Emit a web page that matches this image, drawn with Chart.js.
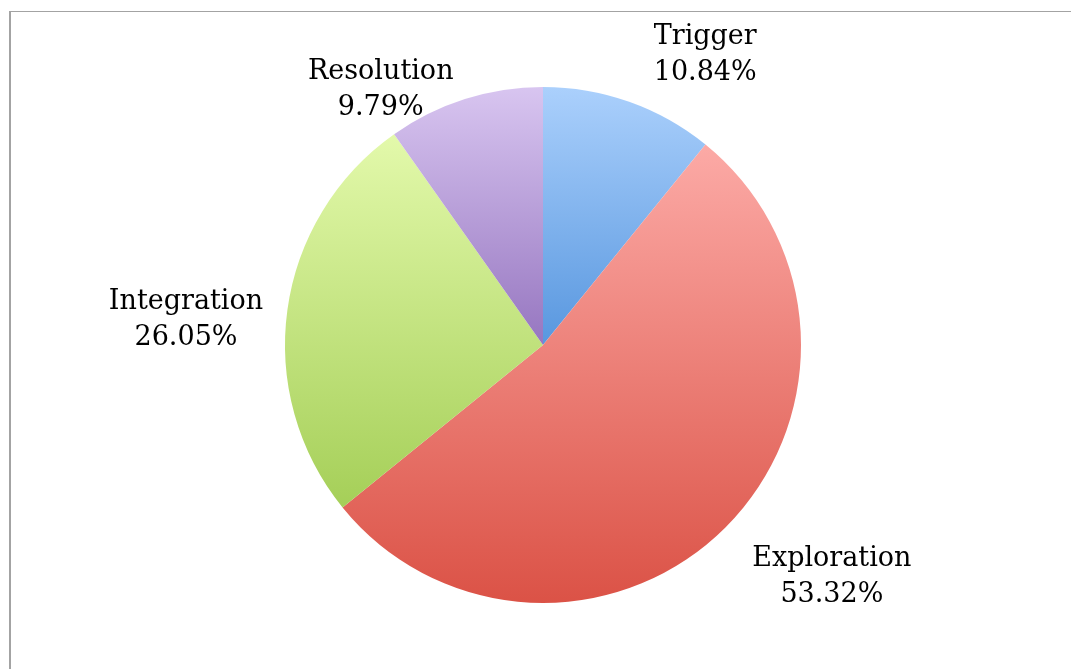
<!DOCTYPE html>
<html>
<head>
<meta charset="utf-8">
<script src="https://cdn.jsdelivr.net/npm/chart.js@4"></script>
<style>
  html, body { margin: 0; padding: 0; background: #fff; }
  #wrap { position: relative; width: 1071px; height: 669px; }
  #frame {
    position: absolute; left: 9px; top: 11px; right: 0; bottom: 0;
    border-top: 1px solid #a3a3a3; border-left: 2px solid #a3a3a3;
  }
  canvas { position: absolute; left: 0; top: 0; }
</style>
</head>
<body>
<div id="wrap">
  <div id="frame"></div>
  <canvas id="faseChart" width="1071" height="669"></canvas>
</div>
<script>
// Fases - pie chart
const fases = ['Trigger', 'Exploration', 'Integration', 'Resolution'];
const percentuais = [10.84, 53.32, 26.05, 9.79];

// gradient per slice: light at top, darker at bottom
const coresTopo = ['#abd0fc', '#fcaaa6', '#e3f9ab', '#d8c5f0'];
const coresBase = ['#5897df', '#db5246', '#a5cf58', '#9676c0'];

// small nudges for the outside labels
const ajusteRotulo = [[56, 10], [64, 7], [-42, 19], [-66, 48]];

function gradienteFatia(context) {
    const i = context.dataIndex;
    const chart = context.chart;
    const area = chart.chartArea;
    if (!area) return coresTopo[i];
    const cx = (area.left + area.right) / 2;
    const cy = (area.top + area.bottom) / 2;
    const r = Math.min(area.right - area.left, area.bottom - area.top) / 2;
    const total = percentuais.reduce((a, b) => a + b, 0);
    let antes = 0;
    for (let k = 0; k < i; k++) antes += percentuais[k];
    const ini = -Math.PI / 2 + antes / total * 2 * Math.PI;
    const fim = ini + percentuais[i] / total * 2 * Math.PI;
    const ys = [cy, cy + r * Math.sin(ini), cy + r * Math.sin(fim)];
    // arc passes through the bottom (PI/2) or top (3PI/2)?
    [Math.PI / 2, 3 * Math.PI / 2, -Math.PI / 2].forEach(a => {
        if (a > ini && a < fim) ys.push(cy + r * Math.sin(a));
    });
    const y0 = Math.min(...ys), y1 = Math.max(...ys);
    const g = chart.ctx.createLinearGradient(0, y0, 0, y1);
    g.addColorStop(0, coresTopo[i]);
    g.addColorStop(1, coresBase[i]);
    return g;
}

const rotulosExternos = {
    id: 'rotulosExternos',
    afterDatasetsDraw(chart) {
        const ctx = chart.ctx;
        const meta = chart.getDatasetMeta(0);
        ctx.save();
        ctx.font = '27px "DejaVu Serif"';
        ctx.fillStyle = '#000';
        ctx.textAlign = 'center';
        ctx.textBaseline = 'middle';
        meta.data.forEach((arc, i) => {
            const meio = (arc.startAngle + arc.endAngle) / 2;
            const dist = arc.outerRadius + 60;
            const x = arc.x + Math.cos(meio) * dist + ajusteRotulo[i][0];
            const y = arc.y + Math.sin(meio) * dist + ajusteRotulo[i][1];
            ctx.fillText(fases[i], x, y - 18);
            ctx.fillText(percentuais[i].toFixed(2) + '%', x, y + 18);
        });
        ctx.restore();
    }
};

const faseCtx = document.getElementById('faseChart').getContext('2d');
const faseChart = new Chart(faseCtx, {
    type: 'pie',
    data: {
        labels: fases,
        datasets: [{
            data: percentuais,
            backgroundColor: gradienteFatia,
            borderWidth: 0
        }]
    },
    options: {
        responsive: false,
        animation: false,
        layout: { padding: { top: 87, bottom: 66, left: 285, right: 270 } },
        plugins: {
            legend: { display: false },
            tooltip: { enabled: false }
        }
    },
    plugins: [rotulosExternos]
});
</script>
</body>
</html>
